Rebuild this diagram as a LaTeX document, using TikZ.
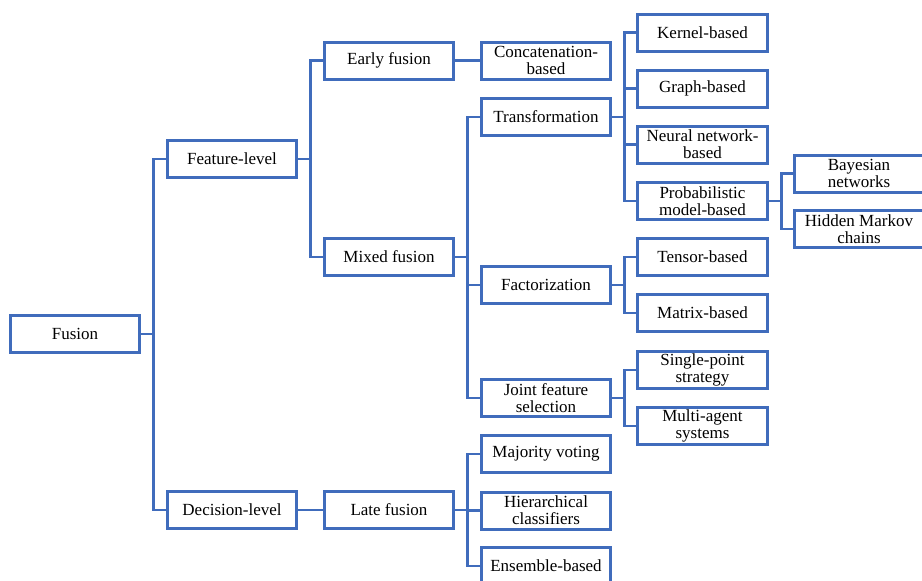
\documentclass[tikz,border=0pt]{standalone}
\usepackage{fontspec}
\setmainfont{Liberation Serif}
\definecolor{boxblue}{RGB}{64,108,188}
\begin{document}
\begin{tikzpicture}[x=1pt,y=-1pt,
  box/.style={draw=boxblue,line width=3pt,fill=white,minimum width=129.5pt,minimum height=37pt,inner sep=0pt,align=center,font=\fontsize{17}{17.3}\selectfont},
  conn/.style={draw=boxblue,line width=2.8pt}]
\clip (0,0) rectangle (922,581);
\fill[white] (0,0) rectangle (922,581);
% column 0-2
\node[box] (fusion) at (75,334) {Fusion};
\node[box] (feat) at (232,159) {Feature-level};
\node[box] (dec) at (232,510) {Decision-level};
\node[box] (early) at (389,60.5) {Early fusion};
\node[box] (mixed) at (389,257) {Mixed fusion};
\node[box] (late) at (389,510) {Late fusion};
% column 3
\node[box] (concat) at (546,60.5) {Concatenation-\\based};
\node[box] (trans) at (546,117) {Transformation};
\node[box] (fact) at (546,285) {Factorization};
\node[box] (joint) at (546,398) {Joint feature\\selection};
\node[box] (major) at (546,454) {Majority voting};
\node[box] (hier) at (546,510.5) {Hierarchical\\classifiers};
\node[box] (ens) at (546,566) {Ensemble-based};
% column 4
\node[box] (kernel) at (702.5,32.5) {Kernel-based};
\node[box] (graph) at (702.5,88.5) {Graph-based};
\node[box] (neural) at (702.5,144.5) {Neural network-\\based};
\node[box] (prob) at (702.5,201) {Probabilistic\\model-based};
\node[box] (tensor) at (702.5,257) {Tensor-based};
\node[box] (matrix) at (702.5,313) {Matrix-based};
\node[box] (single) at (702.5,370) {Single-point\\strategy};
\node[box] (multi) at (702.5,426) {Multi-agent\\systems};
% column 5
\node[box] (bayes) at (859,173.5) {Bayesian\\networks};
\node[box] (hmm) at (859,229) {Hidden Markov\\chains};
% connectors
\foreach \p/\c in {fusion/feat,fusion/dec,feat/early,feat/mixed,mixed/trans,mixed/fact,mixed/joint,late/major,late/hier,late/ens,trans/kernel,trans/graph,trans/neural,trans/prob,fact/tensor,fact/matrix,joint/single,joint/multi,prob/bayes,prob/hmm}
  \draw[conn] (\p.east) -- ++(12.5,0) |- (\c.west);
\draw[conn] (early.east) -- (concat.west);
\draw[conn] (dec.east) -- (late.west);
\end{tikzpicture}
\end{document}
